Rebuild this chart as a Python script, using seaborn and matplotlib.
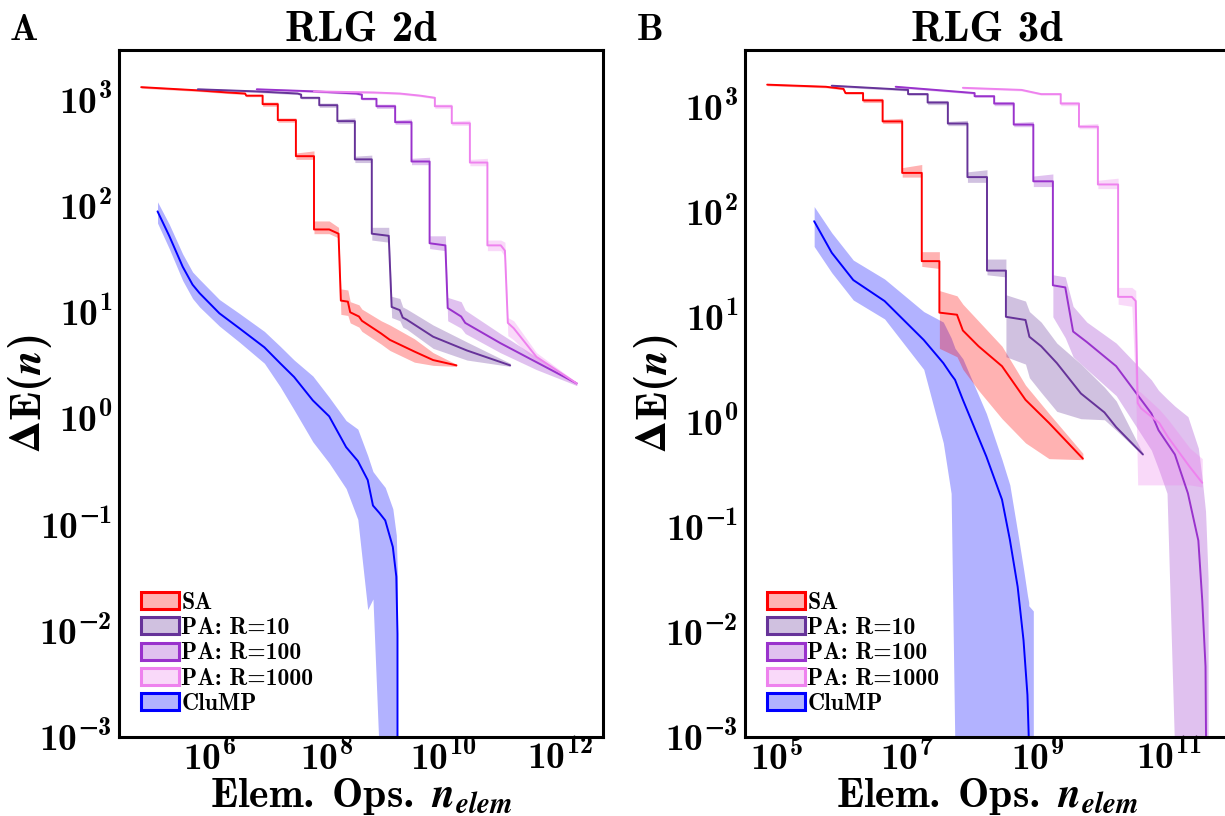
import numpy as np
import pandas as pd
import matplotlib
matplotlib.use("Agg")
import matplotlib.pyplot as plt
import seaborn as sns
from matplotlib.patches import Patch
from matplotlib.colors import to_rgba
from matplotlib.ticker import FixedLocator, FuncFormatter, LogLocator, NullFormatter

# ---- RLG 2d ----
sa2_x = [4.82, 5.79, 6.30, 6.60, 6.62, 6.90, 6.90, 7.16, 7.16, 7.47, 7.47, 7.78, 7.78, 8.04, 8.20, 8.24, 8.36, 8.40, 8.55, 8.60, 8.93, 9.08, 9.50, 9.82, 10.22]
sa2_y = [3.12, 3.09, 3.07, 3.06, 3.04, 3.04, 2.96, 2.96, 2.81, 2.81, 2.47, 2.47, 1.78, 1.78, 1.74, 1.11, 1.10, 1.00, 0.96, 0.92, 0.80, 0.74, 0.63, 0.55, 0.50]
sa2_hi = [3.13, 3.10, 3.08, 3.07, 3.05, 3.05, 2.98, 2.98, 2.83, 2.83, 2.50, 2.52, 1.86, 1.86, 1.80, 1.22, 1.21, 1.10, 1.07, 1.03, 0.92, 0.88, 0.75, 0.62, 0.51]
sa2_lo = [3.11, 3.08, 3.06, 3.05, 3.03, 3.03, 2.94, 2.94, 2.79, 2.79, 2.44, 2.44, 1.74, 1.74, 1.70, 0.98, 0.97, 0.90, 0.86, 0.82, 0.70, 0.64, 0.53, 0.50, 0.49]

pa10_2_x = [5.79, 6.80, 7.50, 7.56, 7.56, 7.87, 7.87, 8.18, 8.18, 8.48, 8.48, 8.77, 8.77, 9.06, 9.11, 9.25, 9.30, 9.37, 9.82, 10.40, 11.14]
pa10_2_y = [3.10, 3.08, 3.06, 3.05, 3.02, 3.02, 2.95, 2.95, 2.80, 2.80, 2.44, 2.44, 1.74, 1.72, 1.05, 1.02, 0.95, 0.93, 0.77, 0.64, 0.50]
pa10_2_hi = [3.11, 3.09, 3.07, 3.06, 3.03, 3.03, 2.97, 2.97, 2.82, 2.83, 2.47, 2.48, 1.80, 1.80, 1.15, 1.13, 1.05, 1.03, 0.88, 0.72, 0.52]
pa10_2_lo = [3.09, 3.07, 3.05, 3.04, 3.01, 3.01, 2.93, 2.93, 2.78, 2.78, 2.41, 2.41, 1.68, 1.66, 0.95, 0.92, 0.86, 0.84, 0.66, 0.55, 0.49]

pa100_2_x = [6.80, 7.80, 8.50, 8.60, 8.60, 8.85, 8.85, 9.17, 9.17, 9.45, 9.45, 9.76, 9.76, 10.03, 10.07, 10.30, 10.37, 10.97, 11.59, 12.28]
pa100_2_y = [3.10, 3.08, 3.06, 3.05, 3.01, 3.01, 2.94, 2.94, 2.79, 2.79, 2.42, 2.42, 1.65, 1.63, 1.04, 0.96, 0.90, 0.71, 0.53, 0.33]
pa100_2_hi = [3.11, 3.09, 3.07, 3.06, 3.02, 3.02, 2.96, 2.96, 2.81, 2.82, 2.45, 2.46, 1.72, 1.72, 1.14, 1.10, 1.02, 0.80, 0.58, 0.34]
pa100_2_lo = [3.09, 3.07, 3.05, 3.04, 3.00, 3.00, 2.92, 2.92, 2.77, 2.77, 2.39, 2.39, 1.60, 1.58, 0.92, 0.85, 0.80, 0.62, 0.46, 0.31]

pa1000_2_x = [7.78, 8.80, 9.25, 9.60, 9.85, 9.85, 10.14, 10.14, 10.45, 10.45, 10.75, 10.75, 10.98, 11.05, 11.10, 11.20, 11.59, 12.28]
pa1000_2_y = [3.08, 3.07, 3.06, 3.04, 3.02, 2.94, 2.94, 2.78, 2.78, 2.41, 2.41, 1.63, 1.63, 1.58, 0.90, 0.85, 0.58, 0.33]
pa1000_2_hi = [3.09, 3.08, 3.07, 3.05, 3.03, 2.96, 2.96, 2.80, 2.81, 2.44, 2.45, 1.68, 1.68, 1.66, 0.95, 0.92, 0.62, 0.34]
pa1000_2_lo = [3.07, 3.06, 3.05, 3.03, 3.01, 2.92, 2.92, 2.76, 2.76, 2.38, 2.38, 1.58, 1.58, 1.52, 0.78, 0.74, 0.53, 0.31]

clump2_x = [5.10, 5.30, 5.53, 5.70, 5.82, 6.16, 6.50, 6.93, 7.20, 7.44, 7.76, 8.04, 8.33, 8.53, 8.70, 8.79, 8.90, 9.00, 9.13, 9.19, 9.21, 9.21]
clump2_y = [1.95, 1.72, 1.43, 1.26, 1.18, 0.99, 0.85, 0.67, 0.52, 0.39, 0.17, 0.02, -0.27, -0.40, -0.58, -0.82, -0.89, -0.96, -1.21, -1.49, -2.03, -3.20]
clump2_hi = [2.04, 1.83, 1.55, 1.38, 1.31, 1.12, 0.99, 0.82, 0.68, 0.55, 0.40, 0.20, -0.02, -0.10, -0.35, -0.50, -0.58, -0.65, -0.85, -1.10, -1.50, -3.20]
clump2_lo = [1.84, 1.60, 1.30, 1.13, 1.05, 0.87, 0.72, 0.52, 0.30, 0.08, -0.22, -0.42, -0.66, -0.95, -1.80, -1.70, -3.20, -3.20, -3.20, -3.20, -3.20, -3.20]

# ---- RLG 3d ----
sa3_x = [4.85, 5.75, 6.02, 6.05, 6.32, 6.32, 6.62, 6.62, 6.92, 6.92, 7.22, 7.22, 7.49, 7.49, 7.76, 7.85, 8.09, 8.45, 8.81, 9.17, 9.69]
sa3_y = [3.21, 3.19, 3.17, 3.13, 3.13, 3.06, 3.06, 2.86, 2.86, 2.37, 2.37, 1.53, 1.53, 1.04, 1.02, 0.87, 0.72, 0.53, 0.21, -0.01, -0.35]
sa3_hi = [3.22, 3.20, 3.18, 3.14, 3.14, 3.08, 3.08, 2.88, 2.89, 2.42, 2.45, 1.62, 1.62, 1.25, 1.20, 1.12, 0.96, 0.72, 0.35, 0.08, -0.30]
sa3_lo = [3.20, 3.18, 3.16, 3.12, 3.12, 3.04, 3.04, 2.84, 2.84, 2.33, 2.33, 1.48, 1.46, 0.70, 0.62, 0.50, 0.30, 0.03, -0.20, -0.35, -0.36]

pa10_3_x = [5.84, 7.01, 7.01, 7.31, 7.31, 7.62, 7.62, 7.92, 7.92, 8.22, 8.22, 8.51, 8.51, 8.81, 8.87, 9.05, 9.29, 9.66, 10.02, 10.20, 10.61]
pa10_3_y = [3.20, 3.16, 3.12, 3.12, 3.04, 3.04, 2.84, 2.84, 2.33, 2.33, 1.44, 1.44, 1.00, 0.97, 0.81, 0.72, 0.56, 0.27, 0.09, -0.05, -0.31]
pa10_3_hi = [3.21, 3.17, 3.13, 3.13, 3.06, 3.06, 2.86, 2.87, 2.38, 2.40, 1.55, 1.55, 1.21, 1.15, 1.05, 0.95, 0.75, 0.55, 0.33, 0.20, -0.30]
pa10_3_lo = [3.19, 3.15, 3.11, 3.11, 3.02, 3.02, 2.82, 2.82, 2.28, 2.28, 1.40, 1.38, 0.62, 0.55, 0.42, 0.28, 0.10, 0.03, 0.02, -0.08, -0.32]

pa100_3_x = [6.82, 8.03, 8.03, 8.33, 8.33, 8.63, 8.63, 8.93, 8.93, 9.23, 9.23, 9.42, 9.54, 9.75, 10.20, 10.74, 10.85, 10.98, 11.10, 11.30, 11.46, 11.52, 11.57, 11.58, 11.61]
pa100_3_y = [3.19, 3.13, 3.10, 3.10, 3.03, 3.03, 2.83, 2.83, 2.29, 2.29, 1.30, 1.28, 0.86, 0.76, 0.53, 0.08, -0.08, -0.20, -0.31, -0.68, -1.13, -1.70, -2.33, -3.20, -3.20]
pa100_3_hi = [3.20, 3.14, 3.11, 3.11, 3.05, 3.05, 2.85, 2.86, 2.34, 2.36, 1.40, 1.38, 1.10, 0.95, 0.75, 0.40, 0.30, 0.22, 0.15, 0.05, -0.25, -0.55, -0.85, -1.00, -1.50]
pa100_3_lo = [3.18, 3.12, 3.09, 3.09, 3.01, 3.01, 2.81, 2.81, 2.24, 2.24, 1.00, 0.80, 0.62, 0.50, 0.25, -0.27, -0.45, -0.68, -3.20, -3.20, -3.20, -3.20, -3.20, -3.20, -3.20]

pa1000_3_x = [7.85, 8.75, 9.05, 9.35, 9.35, 9.63, 9.63, 9.92, 9.92, 10.23, 10.23, 10.44, 10.50, 10.53, 10.58, 10.86, 11.00, 11.33, 11.52]
pa1000_3_y = [3.18, 3.16, 3.12, 3.12, 3.03, 3.03, 2.81, 2.81, 2.26, 2.26, 1.19, 1.19, 1.15, 0.18, 0.13, -0.01, -0.15, -0.43, -0.58]
pa1000_3_hi = [3.19, 3.17, 3.13, 3.13, 3.05, 3.05, 2.83, 2.84, 2.30, 2.32, 1.28, 1.28, 1.25, 0.30, 0.28, 0.12, 0.02, -0.25, -0.35]
pa1000_3_lo = [3.17, 3.15, 3.11, 3.11, 3.01, 3.01, 2.79, 2.79, 2.22, 2.22, 1.12, 1.10, 0.30, -0.60, -0.60, -0.60, -0.60, -0.60, -0.62]

clump3_x = [5.57, 5.84, 6.17, 6.65, 7.25, 7.55, 7.67, 7.73, 7.85, 8.21, 8.45, 8.57, 8.69, 8.78, 8.84, 8.86, 8.86, 8.93]
clump3_y = [1.91, 1.61, 1.35, 1.15, 0.78, 0.56, 0.45, 0.40, 0.21, -0.33, -0.74, -1.12, -1.57, -2.08, -2.60, -3.00, -3.20, -3.20]
clump3_hi = [2.05, 1.80, 1.54, 1.36, 1.05, 0.95, 0.80, 0.70, 0.60, 0.08, -0.36, -0.60, -1.05, -1.40, -1.65, -1.72, -1.75, -1.80]
clump3_lo = [1.67, 1.42, 1.16, 0.98, 0.50, -0.20, -0.68, -3.20, -3.20, -3.20, -3.20, -3.20, -3.20, -3.20, -3.20, -3.20, -3.20, -3.20]

labels = ["SA", "PA: R=10", "PA: R=100", "PA: R=1000", "CluMP"]
colors = ["#ff0000", "#663399", "#9932cc", "#ee82ee", "#0000ff"]

CM_BOLD = "cmb10"


def draw_series(ax, x, y, lo, hi, color):
    xs = 10.0 ** np.array(x)
    ax.fill_between(xs, 10.0 ** np.array(lo), 10.0 ** np.array(hi), color=color, alpha=0.3, lw=0)
    df = pd.DataFrame({"n": xs, "dE": 10.0 ** np.array(y)})
    sns.lineplot(data=df, x="n", y="dE", ax=ax, color=color, lw=1.4, estimator=None, sort=False)


def decade_labels(shown):
    def fmt(v, pos):
        e = int(round(np.log10(v)))
        return r"$\mathbf{10^{%d}}$" % e if e in shown else ""
    return FuncFormatter(fmt)


def style_axis(ax, xlim, ylim, xshown, title):
    ax.set_xscale("log")
    ax.set_yscale("log")
    ax.set_xlim(10.0 ** xlim[0], 10.0 ** xlim[1])
    ax.set_ylim(10.0 ** ylim[0], 10.0 ** ylim[1])
    ax.xaxis.set_major_locator(FixedLocator(10.0 ** np.arange(3, 15)))
    ax.xaxis.set_major_formatter(decade_labels(xshown))
    ax.xaxis.set_minor_locator(LogLocator(base=10, subs=np.arange(2, 10), numticks=60))
    ax.xaxis.set_minor_formatter(NullFormatter())
    ax.yaxis.set_major_locator(FixedLocator(10.0 ** np.arange(-3, 4)))
    ax.yaxis.set_major_formatter(decade_labels(range(-3, 4)))
    ax.yaxis.set_minor_locator(LogLocator(base=10, subs=np.arange(2, 10), numticks=60))
    ax.yaxis.set_minor_formatter(NullFormatter())
    ax.tick_params(which="both", direction="in", top=False, right=False, labelsize=27, colors="black")
    ax.tick_params(which="major", length=4.5, width=1.3)
    ax.tick_params(which="minor", length=2.5, width=1.0)
    ax.tick_params(axis="y", pad=5)
    ax.tick_params(axis="x", pad=3)
    for s in ax.spines.values():
        s.set_linewidth(2.2)
        s.set_color("black")
    ax.set_title(title, fontsize=31, pad=7, family=CM_BOLD)
    ax.set_xlabel(r"$\mathbf{Elem.\ Ops.}\ \mathbfit{n}_{\mathbfit{elem}}$", fontsize=30)
    ax.set_ylabel(r"$\mathbf{\Delta E(}\mathbfit{n}\mathbf{)}$", fontsize=32)
    ax.xaxis.set_label_coords(0.5, -0.055)
    ax.yaxis.set_label_coords(-0.135, 0.5)
    handles = [Patch(facecolor=to_rgba(c, 0.3), edgecolor=c, linewidth=2.2) for c in colors]
    ax.legend(handles, labels, loc="lower left", bbox_to_anchor=(0.045, 0.032), frameon=False,
              prop={"family": CM_BOLD, "size": 17}, handlelength=1.6, handleheight=0.72,
              labelspacing=0.14, handletextpad=0.12, borderaxespad=0, borderpad=0)


sns.set_theme(style="white")
plt.rcParams["mathtext.fontset"] = "custom"
plt.rcParams["mathtext.rm"] = CM_BOLD
plt.rcParams["mathtext.bf"] = CM_BOLD
plt.rcParams["mathtext.it"] = "STIXGeneral:italic:bold"
plt.rcParams["mathtext.bfit"] = "STIXGeneral:italic:bold"
plt.rcParams["mathtext.fallback"] = "stix"
plt.rcParams["axes.unicode_minus"] = True
plt.rcParams["text.color"] = "black"
plt.rcParams["axes.labelcolor"] = "black"

fig = plt.figure(figsize=(12.25, 8.16), dpi=100)
axA = fig.add_axes([119 / 1225, 79 / 816, 484 / 1225, 687 / 816])
axB = fig.add_axes([745 / 1225, 79 / 816, 484 / 1225, 687 / 816])
for ax in (axA, axB):
    ax.set_xscale("log")
    ax.set_yscale("log")

draw_series(axA, clump2_x, clump2_y, clump2_lo, clump2_hi, colors[4])
draw_series(axA, sa2_x, sa2_y, sa2_lo, sa2_hi, colors[0])
draw_series(axA, pa10_2_x, pa10_2_y, pa10_2_lo, pa10_2_hi, colors[1])
draw_series(axA, pa100_2_x, pa100_2_y, pa100_2_lo, pa100_2_hi, colors[2])
draw_series(axA, pa1000_2_x, pa1000_2_y, pa1000_2_lo, pa1000_2_hi, colors[3])

draw_series(axB, clump3_x, clump3_y, clump3_lo, clump3_hi, colors[4])
draw_series(axB, sa3_x, sa3_y, sa3_lo, sa3_hi, colors[0])
draw_series(axB, pa10_3_x, pa10_3_y, pa10_3_lo, pa10_3_hi, colors[1])
draw_series(axB, pa100_3_x, pa100_3_y, pa100_3_lo, pa100_3_hi, colors[2])
draw_series(axB, pa1000_3_x, pa1000_3_y, pa1000_3_lo, pa1000_3_hi, colors[3])

style_axis(axA, (4.44, 12.73), (-3, 3.47), [6, 8, 10, 12], "RLG 2d")
style_axis(axB, (4.51, 11.93), (-3, 3.54), [5, 7, 9, 11], "RLG 3d")

fig.text(10 / 1225, 1 - 40 / 816, "A", fontsize=27, va="baseline", family=CM_BOLD)
fig.text(637 / 1225, 1 - 40 / 816, "B", fontsize=27, va="baseline", family=CM_BOLD)

fig.savefig("out.png", dpi=100)
